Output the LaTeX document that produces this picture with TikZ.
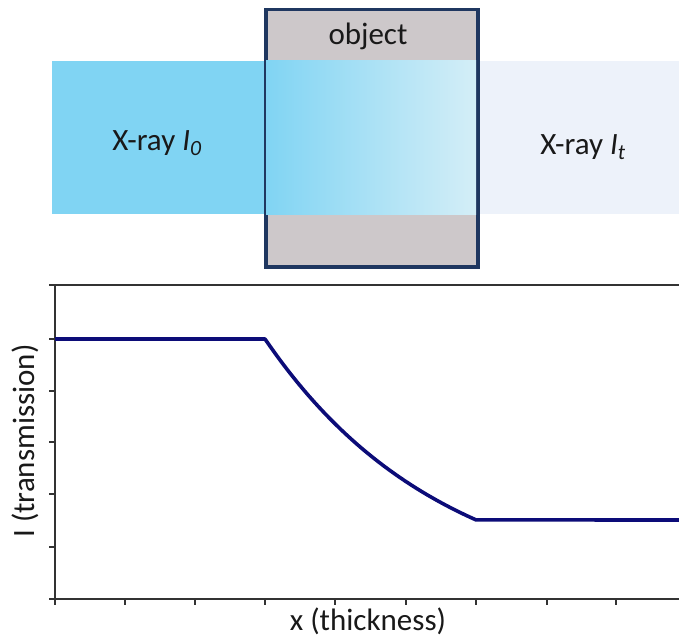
\documentclass[tikz,border=0pt]{standalone}
\usepackage{fontspec}
\setmainfont{Carlito}
\usetikzlibrary{positioning}
\definecolor{beamC}{HTML}{80D4F3}
\definecolor{fadeC}{HTML}{D4EEF7}
\definecolor{outC}{HTML}{EDF2FA}
\definecolor{objC}{HTML}{CDC8CA}
\definecolor{edgeC}{HTML}{1F3760}
\definecolor{curveC}{HTML}{0C0C78}
\tikzset{
  lbl/.style={font=\fontsize{31}{35}\selectfont, inner sep=0pt, text=black!90},
  objbox/.style={draw=edgeC, line width=2.5pt, fill=objC, inner sep=0pt,
                 minimum width=211pt, minimum height=256pt},
  axis/.style={draw=black!80, line width=1.3pt},
  tick/.style={draw=black!80, line width=1.3pt},
  curve/.style={draw=curveC, line width=3.6pt, line join=round},
}
\begin{document}
\begin{tikzpicture}[x=1pt, y=-1pt]
\useasboundingbox (0,0) rectangle (679,639);
% beam and object
\fill[beamC] (52,61) rectangle (265,214);
\fill[outC] (476,61) rectangle (679,214);
\node[objbox, anchor=north west] (obj) at (265,9) {};
\shade[left color=beamC, right color=fadeC] (265,61) rectangle (476,214);
\draw[draw=edgeC, line width=2.5pt] (obj.north west) rectangle (obj.south east);
\node[lbl] (objname) at (368,36) {object};
\node[lbl] (xin) at (157,143) {X-ray \textit{I\textsubscript{0}}};
\node[lbl] (xout) at (583,147) {X-ray \textit{I\textsubscript{t}}};
% plot
\draw[axis] (679,285) -- (55,285) -- (55,599) -- (679,599);
\foreach \y in {285,339,391,442,494,547,599}
  \draw[tick] (55,\y) -- ++(-6,0);
\foreach \x in {55,125,195,265,335,406,476,547,616}
  \draw[tick] (\x,599) -- ++(0,6);
\draw[curve] (55,339) -- (265,339)
  -- plot[domain=0:1, samples=40] ({265+211*\x},{599-260*exp(-1.19*\x)})
  -- (679,520);
\node[lbl] (xlab) at (368,621) {x (thickness)};
\node[lbl, rotate=90] (ylab) at (25,441) {I (transmission)};
\end{tikzpicture}
\end{document}
